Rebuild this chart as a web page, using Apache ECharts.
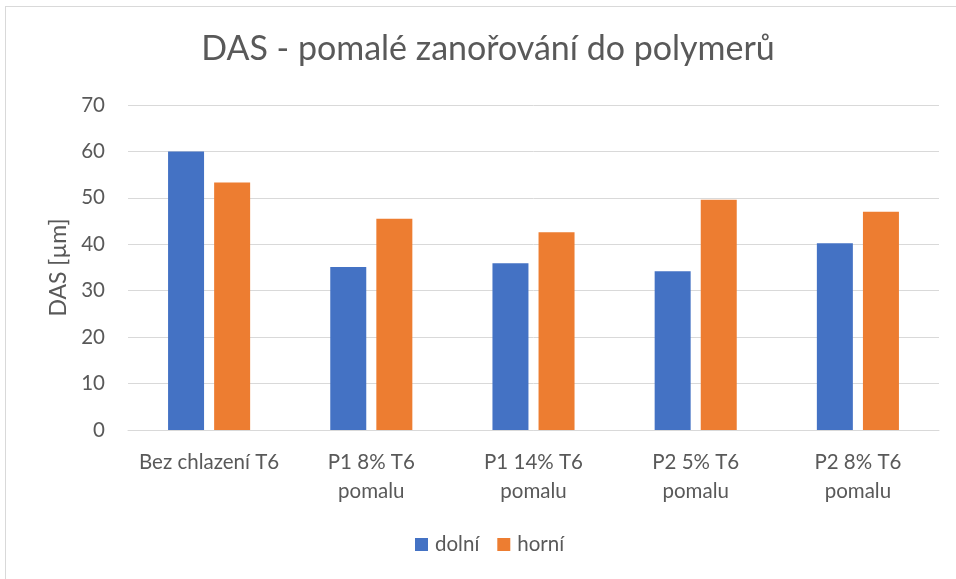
<!DOCTYPE html>
<html>
<head>
<meta charset="utf-8">
<script src="https://cdn.jsdelivr.net/npm/echarts@6/dist/echarts.min.js"></script>
<style>
  html, body { margin: 0; padding: 0; background: #fff; overflow: hidden; }
  .frame { position: absolute; left: 5px; top: 6px; width: 980px; height: 600px; border: 1px solid #d9d9d9; box-sizing: border-box; }
  #chart { position: absolute; left: 0; top: 0; width: 956px; height: 579px; }
</style>
</head>
<body>
<div class="frame"></div>
<div id="chart"></div>
<script>
const categories = ['Bez chlazení T6', 'P1 8% T6\npomalu', 'P1 14% T6\npomalu', 'P2 5% T6\npomalu', 'P2 8% T6\npomalu']
const dolni = [60.0, 35.1, 35.9, 34.2, 40.2]
const horni = [53.3, 45.5, 42.6, 49.6, 47.0]

const font = 'Lato'
const textColor = '#595959'

const chart = echarts.init(document.getElementById('chart'))
chart.setOption({
  animation: false,
  textStyle: { fontFamily: font },
  title: {
    text: 'DAS - pomalé zanořování do polymerů',
    left: 488,
    textAlign: 'center',
    top: 32,
    padding: 0,
    textStyle: { fontFamily: font, fontSize: 34, fontWeight: 'normal', color: textColor }
  },
  legend: {
    top: 534,
    left: 415,
    padding: 0,
    itemWidth: 13,
    itemHeight: 13,
    itemGap: 18,
    icon: 'rect',
    textStyle: { fontFamily: font, fontSize: 20.5, color: textColor, padding: [0, 0, 0, 2] },
    data: ['dolní', 'horní']
  },
  grid: { left: 128, right: 17, top: 105, bottom: 149 },
  xAxis: {
    type: 'category',
    data: categories,
    axisLine: { lineStyle: { color: '#d9d9d9', width: 1 } },
    axisTick: { show: false },
    axisLabel: { color: textColor, fontSize: 20.5, lineHeight: 29, margin: 18, interval: 0 }
  },
  yAxis: {
    type: 'value',
    min: 0,
    max: 70,
    interval: 10,
    name: 'DAS [µm]',
    nameLocation: 'middle',
    nameGap: 57,
    nameTextStyle: { fontFamily: font, fontSize: 23, color: textColor },
    axisLine: { show: false },
    axisTick: { show: false },
    axisLabel: { color: textColor, fontSize: 20.5, margin: 23 },
    splitLine: { lineStyle: { color: '#d9d9d9', width: 1 } }
  },
  series: [
    {
      name: 'dolní',
      type: 'bar',
      data: dolni,
      barWidth: 36,
      barGap: '28%',
      itemStyle: { color: '#4472c4' }
    },
    {
      name: 'horní',
      type: 'bar',
      data: horni,
      barWidth: 36,
      itemStyle: { color: '#ed7d31' }
    }
  ]
})
</script>
</body>
</html>
